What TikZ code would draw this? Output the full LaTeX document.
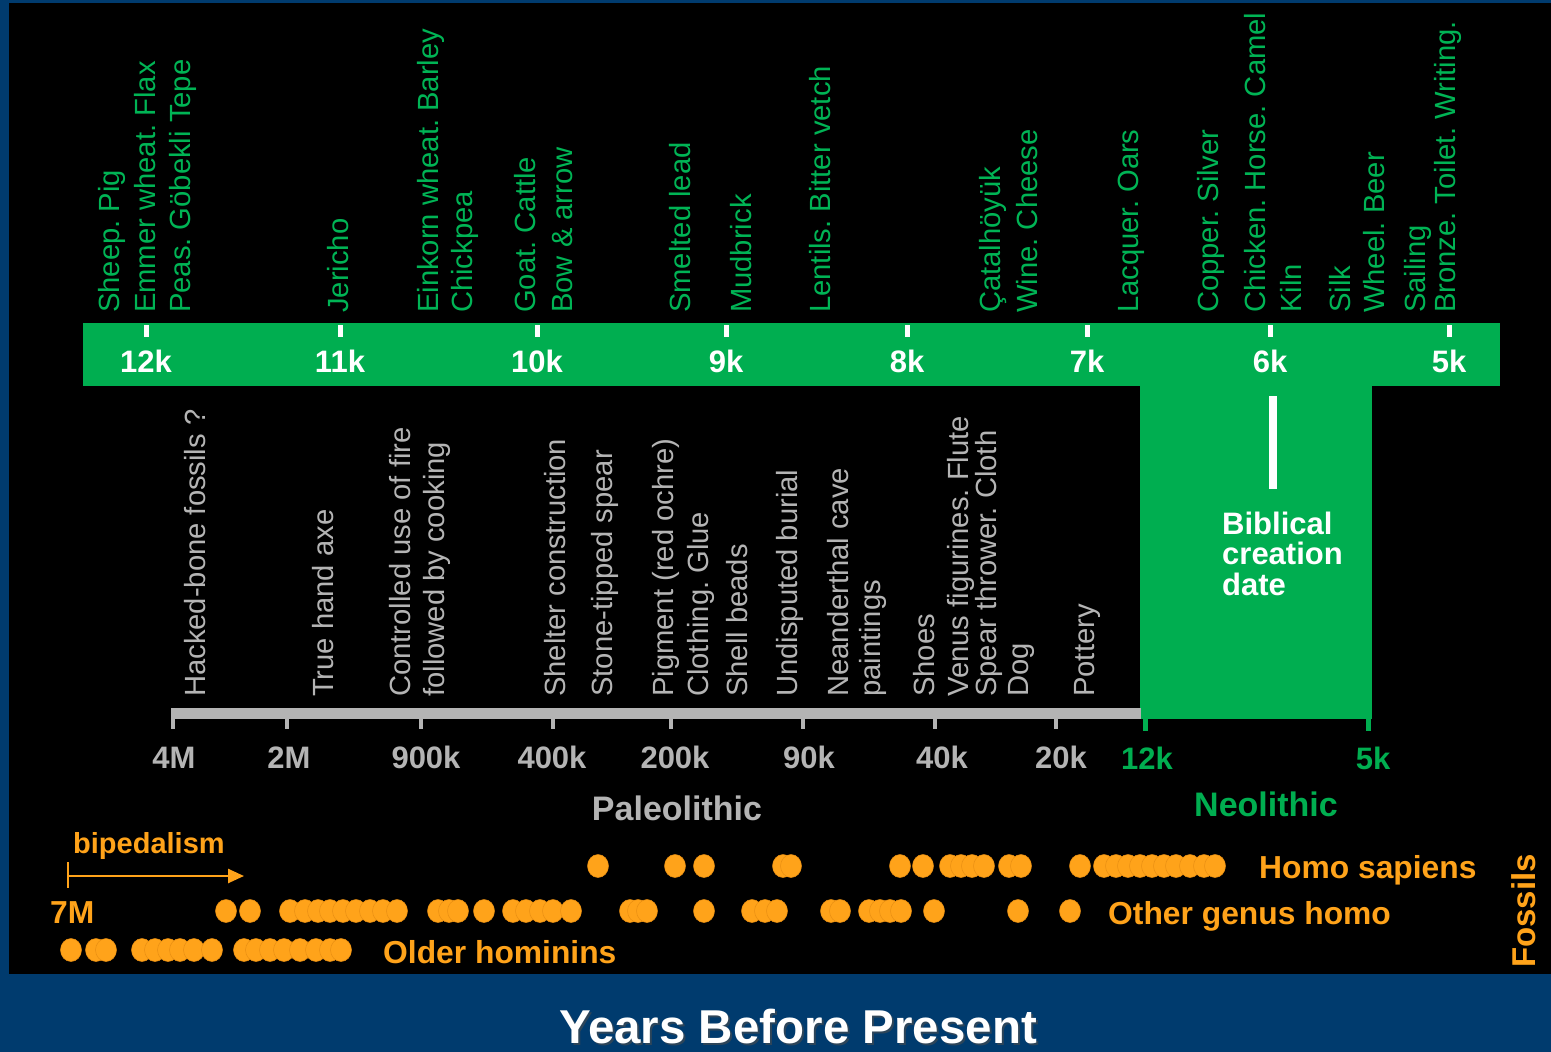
\documentclass[tikz,border=0pt]{standalone}
\usepackage{fontspec}
\setmainfont{Liberation Sans}
\usetikzlibrary{arrows.meta}
\frenchspacing
\definecolor{bgblue}{RGB}{0,59,110}
\definecolor{bargreen}{RGB}{0,174,80}
\definecolor{txtgreen}{RGB}{0,180,85}
\definecolor{palegray}{RGB}{180,180,180}
\definecolor{fossilorange}{RGB}{255,163,26}
\definecolor{fossiledge}{RGB}{232,142,18}
\begin{document}
\begin{tikzpicture}[x=1pt,y=-1pt,
  toplab/.style={rotate=90,anchor=base west,inner sep=0pt,text=txtgreen,font=\fontsize{29.2}{35}\selectfont},
  lowlab/.style={rotate=90,anchor=base west,inner sep=0pt,text=palegray,font=\fontsize{29.2}{35}\selectfont},
  klab/.style={anchor=base,inner sep=0pt,text=white,font=\fontsize{31}{35}\selectfont\bfseries},
  glab/.style={anchor=base,inner sep=0pt,text=palegray,font=\fontsize{31}{35}\selectfont\bfseries},
  nlab/.style={anchor=base,inner sep=0pt,text=bargreen,font=\fontsize{31}{35}\selectfont\bfseries},
  olab/.style={anchor=base west,inner sep=0pt,text=fossilorange,font=\fontsize{31.8}{35}\selectfont\bfseries},
  fossil/.style={fill=fossilorange,draw=fossiledge,line width=0.5pt},
]
\useasboundingbox (0,0) rectangle (1551,1052);
\fill[bgblue] (0,0) rectangle (1551,1052);
\fill[black] (9,3) rectangle (1551,974);

% Neolithic green band
\fill[bargreen] (83,323) rectangle (1500,386);
\fill[bargreen] (1140,385) rectangle (1372,719);
\fill[bargreen] (1143,718) rectangle (1148,731);
\fill[bargreen] (1366,718) rectangle (1371,731);
\foreach \x/\l in {146/12k,340/11k,537/10k,726/9k,907/8k,1087/7k,1270/6k,1449/5k}{
  \fill[white] (\x-2.5,325) rectangle (\x+2.5,337);
  \node[klab] (tick\l) at (\x,372) {\l};
}
\fill[white] (1269,396) rectangle (1277,489);
\node[anchor=base west,inner sep=0pt,text=white,align=left,font=\fontsize{31}{30.5}\selectfont\bfseries] (biblical) at (1222,595) {Biblical\\creation\\date};

% top labels
\foreach \x/\t in {119/Sheep. Pig,155/Emmer wheat. Flax,190/Peas. Göbekli Tepe,348/Jericho,438/Einkorn wheat. Barley,472/Chickpea,535/Goat. Cattle,572/Bow \& arrow,690/Smelted lead,751/Mudbrick,830/Lentils. Bitter vetch,1000/Çatalhöyük,1037/Wine. Cheese,1138/Lacquer. Oars,1218/Copper. Silver,1265/Chicken. Horse. Camel,1301/Kiln,1350/Silk,1384/Wheel. Beer,1425/Sailing,1455/Bronze. Toilet. Writing.}{
  \node[toplab] (top\x) at (\x,313) {\t};
}

% paleolithic gray bar
\fill[palegray] (171,708) rectangle (1141,719);
\fill[palegray] (171,708) rectangle (175,729);
\foreach \x in {287,421,553,671,803,935,1056}{
  \fill[palegray] (\x-2,718) rectangle (\x+2,729);
}
\foreach \x/\t in {174/4M,289/2M,426/900k,552/400k,675/200k,809/90k,942/40k,1061/20k}{
  \node[glab] (g\x) at (\x,768) {\t};
}
\node[nlab] (n12k) at (1147,769) {12k};
\node[nlab] (n5k) at (1373,769) {5k};
\node[anchor=base,inner sep=0pt,text=palegray,font=\fontsize{34}{36}\selectfont\bfseries] (paleo) at (677,820) {Paleolithic};
\node[anchor=base,inner sep=0pt,text=bargreen,font=\fontsize{34}{36}\selectfont\bfseries] (neo) at (1266,816) {Neolithic};

% lower labels
\foreach \x/\t in {205/Hacked-bone fossils ?,333/True hand axe,410/Controlled use of fire,444/followed by cooking,565/Shelter construction,612/Stone-tipped spear,673/Pigment (red ochre),708/Clothing. Glue,747/Shell beads,797/Undisputed burial,848/Neanderthal cave,880/paintings,934/Shoes,968/Venus figurines. Flute,996/Spear thrower. Cloth,1028/Dog,1094/Pottery}{
  \node[lowlab] (low\x) at (\x,697) {\t};
}

% fossils
\foreach \x in {598,675,704,783,791,900,923,950,961,972,984,1009,1021,1080,1104,1116,1128,1140,1152,1164,1176,1190,1204,1215}{
  \filldraw[fossil] (\x,866) ellipse (10.5 and 11.5);
}
\foreach \x in {226,250,290,305,318,330,343,356,370,383,397,438,449,458,484,513,526,540,553,571,630,638,647,704,752,765,777,831,840,869,880,890,901,934,1018,1070}{
  \filldraw[fossil] (\x,911) ellipse (10.5 and 11.5);
}
\foreach \x in {71,96,106,142,155,168,180,194,212,244,256,270,284,300,316,330,341}{
  \filldraw[fossil] (\x,950) ellipse (10.5 and 11.5);
}
\node[olab] (sapiens) at (1259,878) {Homo sapiens};
\node[olab] (genus) at (1108,924) {Other genus homo};
\node[olab] (older) at (383,963) {Older hominins};
\node[olab] (sevenM) at (50,923) {7M};
\node[anchor=base west,inner sep=0pt,text=fossilorange,font=\fontsize{29}{33}\selectfont\bfseries] (biped) at (73,853) {bipedalism};
\coordinate (bipA) at (68,876);
\coordinate (bipB) at (244,876);
\draw[fossilorange,line width=2.5pt] (68,862) -- (68,888);
\draw[fossilorange,line width=2.5pt,-{Triangle[length=16pt,width=14pt]}] (bipA) -- (bipB);
\node[rotate=90,anchor=base west,inner sep=0pt,text=fossilorange,font=\fontsize{33}{35}\selectfont\bfseries] (fossils) at (1535,968) {Fossils};

% title
\node[anchor=base,inner sep=0pt,text depth=0pt,text=black!70,opacity=0.6,font=\fontsize{47.5}{50}\selectfont\bfseries] (titleshadow) at (800,1045) {Years Before Present};
\node[anchor=base,inner sep=0pt,text depth=0pt,text=white,font=\fontsize{47.5}{50}\selectfont\bfseries] (title) at (798,1043) {Years Before Present};
\end{tikzpicture}
\end{document}
